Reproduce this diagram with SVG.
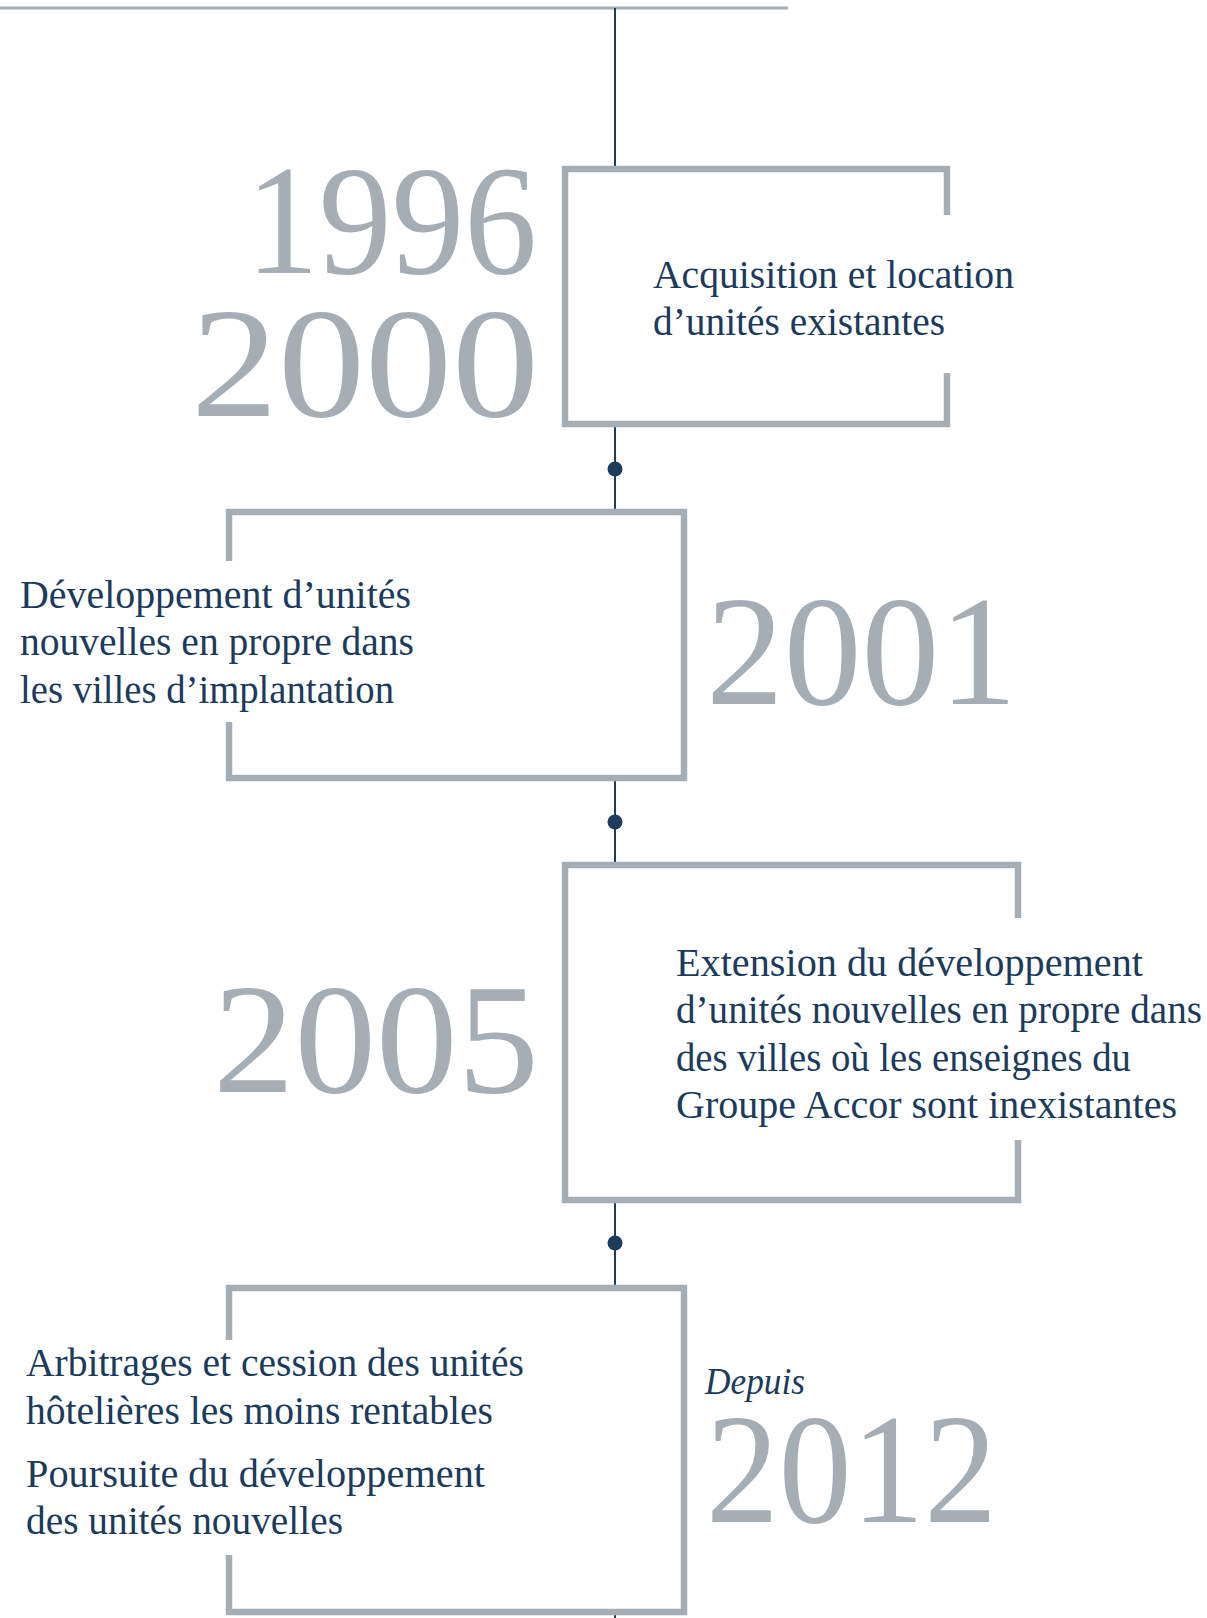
<svg xmlns="http://www.w3.org/2000/svg" width="1207" height="1618" viewBox="0 0 1207 1618">
  <style>
    .frame { fill: none; stroke: #a6aeb5; stroke-width: 6.5; stroke-linejoin: miter; stroke-linecap: butt; }
    .rule { stroke: #a6aeb5; stroke-width: 3; }
    .spine { stroke: #1d3b5b; stroke-width: 2; }
    .dot { fill: #1d3b5b; }
    .year { font-family: "Liberation Serif", "Times New Roman", serif; font-size: 156px; fill: #a6aeb5; }
    .body { font-family: "Liberation Serif", "Times New Roman", serif; font-size: 39px; fill: #1b3a5c; }
    .lead { font-family: "Liberation Serif", "Times New Roman", serif; font-size: 38px; font-style: italic; fill: #1b3a5c; }
  </style>

  <!-- top rule -->
  <line class="rule" x1="0" y1="8" x2="788" y2="8"/>

  <!-- spine connecting the periods -->
  <g id="connectors">
    <line class="spine" x1="615" y1="8" x2="615" y2="169"/>
    <line class="spine" x1="615" y1="424" x2="615" y2="512"/>
    <line class="spine" x1="615" y1="778" x2="615" y2="865"/>
    <line class="spine" x1="615" y1="1200" x2="615" y2="1288"/>
    <line class="spine" x1="615" y1="1612" x2="615" y2="1618"/>
    <circle class="dot" cx="615" cy="469" r="7.5"/>
    <circle class="dot" cx="615" cy="822" r="7.5"/>
    <circle class="dot" cx="615" cy="1243" r="7.5"/>
  </g>

  <!-- 1996 - 2000 -->
  <g id="period-1996-2000">
    <path class="frame" d="M947,215 V169 H565 V424 H947 V373"/>
    <text class="year" x="246" y="273" textLength="291" lengthAdjust="spacingAndGlyphs">1996</text>
    <text class="year" x="191" y="416" textLength="348" lengthAdjust="spacingAndGlyphs">2000</text>
    <text class="body" x="653" y="288" textLength="361" lengthAdjust="spacingAndGlyphs">Acquisition et location</text>
    <text class="body" x="653" y="335" textLength="292" lengthAdjust="spacingAndGlyphs">d’unités existantes</text>
  </g>

  <!-- 2001 -->
  <g id="period-2001">
    <path class="frame" d="M229,561 V512 H684 V778 H229 V722"/>
    <text class="body" x="20" y="608" textLength="391" lengthAdjust="spacingAndGlyphs">Développement d’unités</text>
    <text class="body" x="20" y="655" textLength="394" lengthAdjust="spacingAndGlyphs">nouvelles en propre dans</text>
    <text class="body" x="20" y="703" textLength="374" lengthAdjust="spacingAndGlyphs">les villes d’implantation</text>
    <text class="year" x="706" y="704" textLength="311" lengthAdjust="spacingAndGlyphs">2001</text>
  </g>

  <!-- 2005 -->
  <g id="period-2005">
    <path class="frame" d="M1018,918 V865 H565 V1200 H1018 V1140"/>
    <text class="year" x="213" y="1092" textLength="326" lengthAdjust="spacingAndGlyphs">2005</text>
    <text class="body" x="676" y="976" textLength="467" lengthAdjust="spacingAndGlyphs">Extension du développement</text>
    <text class="body" x="676" y="1023" textLength="526" lengthAdjust="spacingAndGlyphs">d’unités nouvelles en propre dans</text>
    <text class="body" x="676" y="1071" textLength="455" lengthAdjust="spacingAndGlyphs">des villes où les enseignes du</text>
    <text class="body" x="676" y="1118" textLength="501" lengthAdjust="spacingAndGlyphs">Groupe Accor sont inexistantes</text>
  </g>

  <!-- since 2012 -->
  <g id="period-2012">
    <path class="frame" d="M229,1340 V1288 H684 V1612 H229 V1555"/>
    <text class="body" x="26" y="1376" textLength="498" lengthAdjust="spacingAndGlyphs">Arbitrages et cession des unités</text>
    <text class="body" x="26" y="1424" textLength="467" lengthAdjust="spacingAndGlyphs">hôtelières les moins rentables</text>
    <text class="body" x="26" y="1487" textLength="459" lengthAdjust="spacingAndGlyphs">Poursuite du développement</text>
    <text class="body" x="26" y="1534" textLength="317" lengthAdjust="spacingAndGlyphs">des unités nouvelles</text>
    <text class="lead" x="705" y="1394" textLength="100" lengthAdjust="spacingAndGlyphs">Depuis</text>
    <text class="year" x="706" y="1522" textLength="291" lengthAdjust="spacingAndGlyphs">2012</text>
  </g>
</svg>
